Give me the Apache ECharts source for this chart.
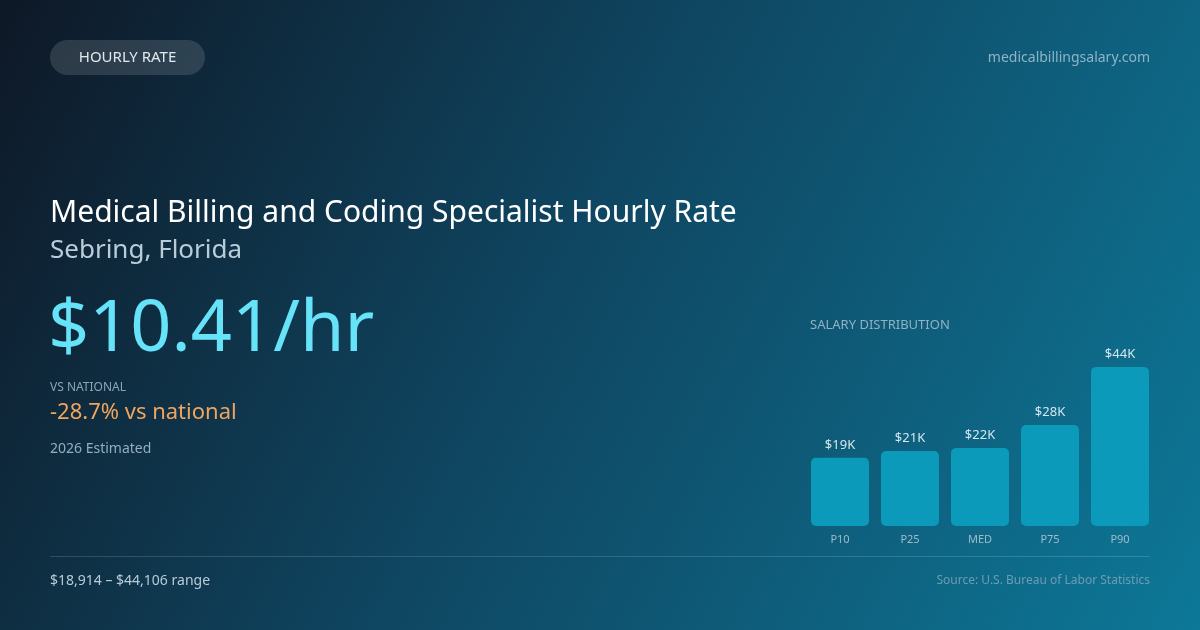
<!DOCTYPE html>
<html>
<head>
<meta charset="utf-8">
<script src="https://cdn.jsdelivr.net/npm/echarts@6/dist/echarts.min.js"></script>
<style>
html,body{margin:0;padding:0;width:1200px;height:630px;overflow:hidden;background:#0f2b3c;}
#c{width:1200px;height:630px;}
</style>
</head>
<body>
<div id="c"></div>
<script>
var categories = ['P10', 'P25', 'MED', 'P75', 'P90'];
var salaryValues = [18914, 20800, 21650, 28000, 44106];
var barLabels = ['$19K', '$21K', '$22K', '$28K', '$44K'];

var badgeText = 'HOURLY RATE';
var siteText = 'medicalbillingsalary.com';
var titleText = 'Medical Billing and Coding Specialist Hourly Rate';
var subtitleText = 'Sebring, Florida';
var rateText = '$10.41/hr';
var vsLabel = 'VS NATIONAL';
var vsText = '-28.7% vs national';
var estText = '2026 Estimated';
var rangeText = '$18,914 \u2013 $44,106 range';
var sourceText = 'Source: U.S. Bureau of Labor Statistics';
var distTitle = 'SALARY DISTRIBUTION';

var FONT = '"Noto Sans", "Open Sans", sans-serif';
var chart = echarts.init(document.getElementById('c'), null, {renderer: 'canvas'});

function txt(x, y, text, size, color, align, weight) {
  return {
    type: 'text', x: x, y: y, silent: true,
    style: {
      text: text, fontSize: size, fill: color, fontFamily: FONT,
      fontWeight: weight || 'normal',
      align: align || 'left', verticalAlign: 'middle'
    }
  };
}

var option = {
  backgroundColor: {
    type: 'linear', x: 0, y: 0, x2: 1, y2: 1,
    colorStops: [
      {offset: 0, color: '#0e1826'},
      {offset: 0.45, color: '#0f4560'},
      {offset: 1, color: '#0d7898'}
    ]
  },
  animation: false,
  grid: {left: 805, right: 45, top: 367, bottom: 104, containLabel: false},
  xAxis: {
    type: 'category', data: categories,
    axisLine: {show: false}, axisTick: {show: false},
    axisLabel: {color: '#9fbccb', fontSize: 11, fontFamily: FONT, margin: 8}
  },
  yAxis: {
    type: 'value', min: 0, max: function (v) { return v.max; },
    show: false, splitLine: {show: false}
  },
  series: [{
    type: 'bar', data: salaryValues, barWidth: 58,
    itemStyle: {color: '#0b9ab9', borderRadius: 5},
    label: {
      show: true, position: 'top', distance: 6,
      color: '#d4e6ee', fontSize: 13, fontFamily: FONT,
      formatter: function (p) { return barLabels[p.dataIndex]; }
    }
  }],
  graphic: [
    {type: 'rect', silent: true, shape: {x: 50, y: 40, width: 155, height: 35, r: 17.5},
     style: {fill: 'rgba(255,255,255,0.13)'}},
    txt(127.5, 58, badgeText, 15, '#dfe8ee', 'center'),
    txt(1150, 58, siteText, 14, '#8fb4c7', 'right'),
    txt(50, 213, titleText, 30, '#ffffff', 'left'),
    txt(50, 251, subtitleText, 26, '#b9cdd8', 'left'),
    txt(48, 330, rateText, 72, '#67e3f9', 'left'),
    txt(50, 388, vsLabel, 12, '#8ba5b5', 'left'),
    txt(50, 413, vsText, 22, '#f0a55e', 'left'),
    txt(50, 449, estText, 14, '#93aebd', 'left'),
    txt(810, 325, distTitle, 13, '#8fb2c4', 'left'),
    {type: 'line', silent: true, shape: {x1: 50, y1: 556.5, x2: 1150, y2: 556.5},
     style: {stroke: 'rgba(255,255,255,0.15)', lineWidth: 1}},
    txt(50, 581, rangeText, 14, '#b9cbd6', 'left'),
    txt(1150, 581, sourceText, 12, '#6d9cb2', 'right')
  ]
};
chart.setOption(option);
</script>
</body>
</html>
